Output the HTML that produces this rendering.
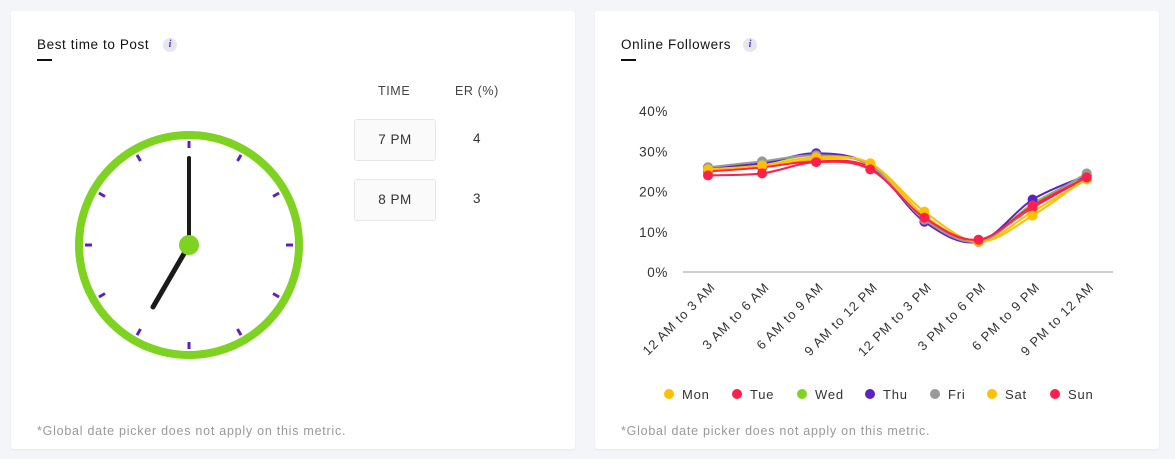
<!DOCTYPE html>
<html><head><meta charset="utf-8"><style>
body{margin:0;width:1175px;height:459px;background:#f4f5f9;font-family:"Liberation Sans",sans-serif;position:relative;overflow:hidden}
.card{position:absolute;top:11px;height:438px;background:#fff;border-radius:3px;box-shadow:0 1px 2px rgba(0,0,0,.06)}
.title{position:absolute;left:26px;top:26px;font-size:13.5px;color:#111;letter-spacing:0.6px}
.ul{position:absolute;left:26px;top:48px;width:15px;height:2px;background:#111}
.info{position:absolute;top:27px;width:14px;height:14px;border-radius:50%;background:#e6e6ee;color:#5a2ec0;font-size:10px;font-style:italic;text-align:center;line-height:14px;font-family:"Liberation Serif",serif;font-weight:bold}
.note{position:absolute;left:26px;top:413px;font-size:12.5px;color:#999;letter-spacing:0.75px}
.hdr{position:absolute;top:73px;font-size:12.5px;color:#444;letter-spacing:0.6px}
.tbox{position:absolute;left:354px;width:80px;height:40px;border:1px solid #e6e6e6;border-radius:3px;background:#fafafa;font-size:13.5px;color:#333;text-align:center;line-height:40px;letter-spacing:0.5px}
.er{position:absolute;left:470px;font-size:13.5px;color:#333}
</style></head><body>
<div class="card" style="left:11px;width:564px">
<div class="title">Best time to Post</div>
<div class="info" style="left:152px">i</div>
<div class="ul"></div>
<div class="hdr" style="left:367px">TIME</div>
<div class="hdr" style="left:444px">ER (%)</div>
<div class="tbox" style="top:108px;left:343px">7 PM</div>
<div class="er" style="top:120px;left:462px">4</div>
<div class="tbox" style="top:168px;left:343px">8 PM</div>
<div class="er" style="top:180px;left:462px">3</div>
<div class="note">*Global date picker does not apply on this metric.</div>
</div>
<div class="card" style="left:595px;width:564px">
<div class="title">Online Followers</div>
<div class="info" style="left:148px">i</div>
<div class="ul"></div>
<div class="note">*Global date picker does not apply on this metric.</div>
</div>
<svg width="1175" height="459" style="position:absolute;left:0;top:0">
<g id="clock"></g>
<g id="chart"></g>
</svg>
<script>
const NS='http://www.w3.org/2000/svg';
function mk(p,t,a){const e=document.createElementNS(NS,t);for(const k in a)e.setAttribute(k,a[k]);p.appendChild(e);return e;}
const cg=document.getElementById('clock');const cx=189,cy=245;
let c=mk(cg,'circle',{cx:cx,cy:cy,r:110,fill:'none',stroke:'#7ed321','stroke-width':8});

for(let i=0;i<12;i++){const a=i*Math.PI/6;const s=Math.sin(a),co=-Math.cos(a);
let t=mk(cg,'line',{x1:cx+s*97,y1:cy+co*97,x2:cx+s*104,y2:cy+co*104,stroke:'#5b21c4','stroke-width':3});
}
let h=mk(cg,'line',{x1:cx,y1:cy,x2:cx,y2:158,stroke:'#1a1a1a','stroke-width':4,'stroke-linecap':'round'});

h=mk(cg,'line',{x1:cx,y1:cy,x2:153,y2:307,stroke:'#1a1a1a','stroke-width':5,'stroke-linecap':'round'});

h=mk(cg,'circle',{cx:cx,cy:cy,r:10,fill:'#7ed321'});

</script>
<script>
const categories=['12 AM to 3 AM','3 AM to 6 AM','6 AM to 9 AM','9 AM to 12 PM','12 PM to 3 PM','3 PM to 6 PM','6 PM to 9 PM','9 PM to 12 AM'];
const seriesNames=['Mon','Tue','Wed','Thu','Fri','Sat','Sun'];
const seriesColors=['#ffc000','#ff1f4b','#7ed321','#5b21c4','#999999','#ffc000','#ff1f4b'];
const mon=[25,26,28,27,14,7.5,15,23];
const tue=[25,26,27.5,26,13,8,16,23.5];
const wed=[25.5,27,29,26.5,13,7.5,17,24];
const thu=[26,27,29.5,26.5,12.5,7.5,18,24];
const fri=[26,27.5,29,26.5,13,7.5,16.5,24.5];
const sat=[25.5,26.5,28.5,27,15,7.5,14,23.5];
const sun=[24,24.5,27.3,25.5,13.5,8,16.5,23.5];
const yTicks=[0,10,20,30,40];
const series=[mon,tue,wed,thu,fri,sat,sun];
const g=document.getElementById('chart');
const X=i=>708+i*54.1, Y=v=>272-v*4.025;
yTicks.forEach(v=>{const t=mk(g,'text',{x:668,y:Y(v)+5,'text-anchor':'end','font-size':13.5,fill:'#333','letter-spacing':0.6,'font-family':'Liberation Sans, sans-serif'});t.textContent=v+'%';
});
let ax=mk(g,'line',{x1:683,y1:Y(0),x2:1113,y2:Y(0),stroke:'#999','stroke-width':1});

categories.forEach((c,i)=>{const x=X(i)+8,y=288;const t=mk(g,'text',{x:x,y:y,'text-anchor':'end','font-size':13,fill:'#333','letter-spacing':0.9,transform:`rotate(-45 ${x} ${y})`,'font-family':'Liberation Sans, sans-serif'});t.textContent=c;
});
function path(vals){const p=vals.map((v,i)=>[X(i),Y(v)]);let d='M'+p[0];for(let i=0;i<p.length-1;i++){const p0=p[i-1]||p[i],p1=p[i],p2=p[i+1],p3=p[i+2]||p2;
d+=` C${p1[0]+(p2[0]-p0[0])/6},${p1[1]+(p2[1]-p0[1])/6} ${p2[0]-(p3[0]-p1[0])/6},${p2[1]-(p3[1]-p1[1])/6} ${p2[0]},${p2[1]}`;}return d;}
series.forEach((vals,s)=>{const l=mk(g,'path',{d:path(vals),fill:'none',stroke:seriesColors[s],'stroke-width':2});

vals.forEach((v,i)=>{const p=mk(g,'circle',{cx:X(i),cy:Y(v),r:5,fill:seriesColors[s]});
});});
const lx=[669,737,802,870,935,992,1055];
seriesNames.forEach((n,i)=>{const d=mk(g,'circle',{cx:lx[i],cy:394,r:5,fill:seriesColors[i]});

const t=mk(g,'text',{x:lx[i]+13,y:399,'font-size':13,fill:'#333','letter-spacing':0.8,'font-family':'Liberation Sans, sans-serif'});t.textContent=n;
});
</script>
</body></html>
